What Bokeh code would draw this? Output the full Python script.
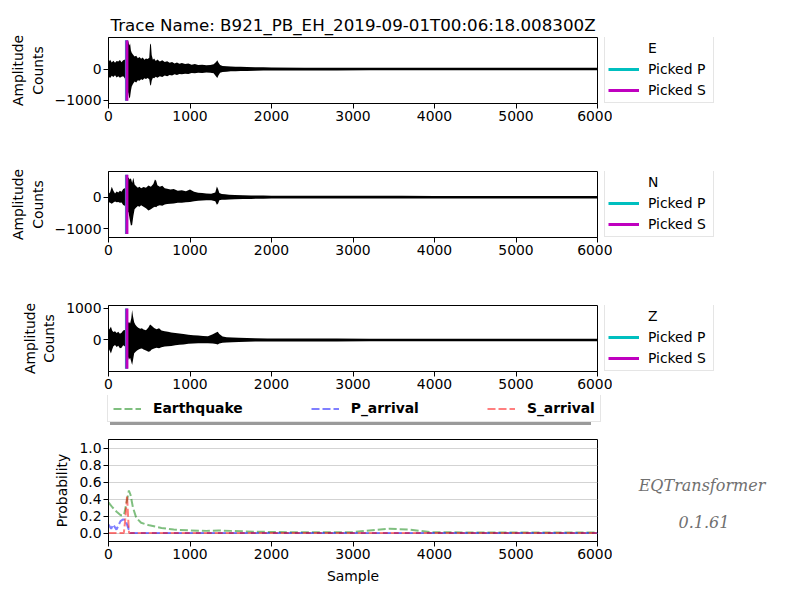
from bokeh.plotting import figure
from bokeh.models import Legend, LegendItem, FixedTicker, Range1d, Label
from bokeh.layouts import column, row
from bokeh.embed import file_html
from bokeh.resources import INLINE

trace_name = "B921_PB_EH_2019-09-01T00:06:18.008300Z"
x_ticks = [0, 1000, 2000, 3000, 4000, 5000, 6000]

# waveform envelopes (sample, counts)
e_x = [0, 20, 40, 60, 80, 100, 120, 140, 160, 180, 200, 215, 225, 235, 245, 255, 265, 275, 285, 300,
       320, 340, 360, 380, 400, 420, 440, 460, 480, 500, 510, 520, 530, 545, 560, 580, 600, 630, 660, 690,
       720, 750, 780, 810, 840, 870, 900, 940, 980, 1020, 1060, 1100, 1150, 1200, 1250, 1290, 1320, 1335, 1350, 1370,
       1400, 1450, 1500, 1560, 1620, 1700, 1800, 1900, 2000,
       2400, 2800, 3200, 3600, 4000, 4400, 4800, 5200, 5600, 6000]
e_up = [230, 300, 210, 270, 200, 260, 240, 290, 220, 280, 300, 500, 700, 930, 880, 760, 820, 600, 520, 470,
        400, 430, 350, 390, 330, 370, 300, 340, 320, 360, 780, 820, 450, 300, 340, 260, 310, 240, 280, 230,
        250, 200, 230, 180, 210, 170, 190, 160, 180, 140, 160, 130, 140, 120, 130, 150, 230, 280, 200, 130,
        100, 90, 80, 75, 70, 65, 60, 55, 50,
        45, 45, 42, 42, 40, 40, 40, 40, 40, 40]
e_lo = [-240, -290, -220, -260, -200, -270, -230, -280, -250, -230, -300, -600, -1000, -700, -800, -950, -900, -700, -560, -480,
        -400, -430, -360, -380, -330, -350, -300, -320, -290, -330, -500, -540, -380, -280, -300, -250, -280, -230, -260, -210,
        -230, -190, -210, -170, -190, -160, -170, -150, -160, -130, -140, -120, -130, -110, -120, -140, -240, -290, -200, -120,
        -95, -85, -75, -70, -65, -60, -55, -50, -48,
        -45, -45, -42, -42, -40, -40, -40, -40, -40, -40]

n_x = [0, 20, 40, 60, 80, 100, 120, 140, 160, 180, 200, 215, 230, 245, 260, 275, 290, 305, 320, 340,
       360, 380, 400, 430, 460, 490, 520, 550, 570, 585, 600, 630, 660, 690, 720, 760, 800, 850, 900, 950,
       1000, 1050, 1100, 1150, 1200, 1260, 1310, 1330, 1345, 1360, 1390, 1430, 1480, 1550, 1650, 1750, 1900, 2000,
       2400, 2800, 3200, 3600, 4000, 4400, 4800, 5200, 5600, 6000]
n_up = [100, 160, 330, 200, 120, 180, 150, 200, 170, 260, 280, 350, 550, 630, 560, 600, 450, 620, 400, 350,
        300, 330, 280, 320, 300, 370, 330, 420, 560, 520, 380, 330, 360, 280, 270, 240, 260, 200, 220, 190,
        240, 170, 140, 130, 120, 110, 150, 340, 250, 130, 100, 90, 80, 70, 60, 55, 50, 45,
        45, 45, 42, 42, 40, 40, 40, 40, 40, 40]
n_lo = [-150, -180, -210, -170, -140, -160, -150, -180, -170, -250, -270, -450, -500, -470, -700, -900, -880, -600, -380, -330,
        -280, -300, -260, -300, -350, -420, -380, -330, -300, -320, -280, -260, -270, -230, -220, -210, -200, -180, -175, -160,
        -155, -130, -110, -105, -100, -100, -130, -240, -200, -100, -85, -80, -70, -65, -60, -55, -50, -45,
        -45, -45, -42, -42, -40, -40, -40, -40, -40, -40]

z_x = [0, 15, 30, 45, 60, 80, 100, 120, 140, 160, 180, 200, 215, 235, 250, 265, 280, 290, 300, 315,
       330, 350, 370, 390, 410, 430, 460, 490, 510, 530, 560, 590, 620, 650, 690, 730, 770, 820, 870, 920,
       980, 1040, 1100, 1160, 1220, 1280, 1320, 1340, 1360, 1400, 1450, 1520, 1600, 1700, 1800, 1950, 2000,
       2400, 2800, 3200, 3600, 4000, 4400, 4800, 5200, 5600, 6000]
z_up = [310, 360, 420, 300, 250, 280, 220, 260, 200, 230, 300, 320, 360, 500, 580, 520, 700, 950, 760, 560,
        480, 420, 380, 360, 370, 330, 310, 400, 490, 450, 380, 340, 370, 300, 280, 260, 240, 220, 210, 190,
        170, 150, 140, 130, 120, 180, 240, 260, 190, 110, 90, 80, 70, 60, 55, 50, 48,
        45, 45, 42, 42, 40, 40, 40, 40, 40, 40]
z_lo = [-260, -340, -430, -300, -200, -160, -220, -180, -260, -250, -170, -200, -350, -500, -630, -560, -700, -790, -650, -420,
        -380, -330, -300, -280, -270, -300, -330, -370, -360, -300, -270, -250, -260, -230, -210, -200, -190, -170, -150, -140,
        -120, -110, -105, -100, -100, -110, -130, -140, -110, -90, -80, -70, -60, -55, -50, -48, -45,
        -45, -45, -42, -42, -40, -40, -40, -40, -40, -40]

p_pick = 220
s_pick = 226
e_ylim = [-1110, 1015]
n_ylim = [-1280, 815]
z_ylim = [-1000, 1095]
e_pick_span = [-1020, 930]
n_pick_span = [-1165, 710]
z_pick_span = [-916, 1000]

# probabilities
eq_x = [0, 50, 100, 150, 190, 220, 250, 270, 300, 340, 400, 500, 650, 800, 1000, 1200, 1350, 1500, 1800,
        2200, 2600, 3000, 3200, 3450, 3700, 3950, 4500, 5000, 5500, 6000]
eq_y = [0.36, 0.30, 0.25, 0.21, 0.21, 0.35, 0.50, 0.45, 0.30, 0.18, 0.12, 0.09, 0.06, 0.04, 0.03, 0.025, 0.03, 0.025, 0.015,
        0.01, 0.008, 0.01, 0.03, 0.05, 0.04, 0.01, 0.006, 0.005, 0.005, 0.005]
pa_x = [0, 33, 57, 98, 147, 180, 208, 249, 269, 300, 1000, 3000, 6000]
pa_y = [0.10, 0.05, 0.10, 0.04, 0.14, 0.16, 0.15, 0.04, 0.0, 0.0, 0.0, 0.0, 0.0]
sa_x = [0, 100, 188, 205, 228, 240, 252, 300, 1000, 3000, 6000]
sa_y = [0.0, 0.0, 0.0, 0.15, 0.44, 0.2, 0.0, 0.0, 0.0, 0.0, 0.0]
prob_ticks = [0.0, 0.2, 0.4, 0.6, 0.8, 1.0]
prob_labels = ["Earthquake", "P_arrival", "S_arrival"]
prob_colors = ["green", "blue", "red"]
pick_labels = ["Picked P", "Picked S"]
pick_colors = ["#00bfbf", "#bf00bf"]
credit = ["EQTransformer", "0.1.61"]

FONT = "DejaVu Sans"
FS = "13.9px"
SHADOW = "#9a9a9a"
dash = dict(line_dash="8 3", line_width=2, line_alpha=0.5)


def make_fig(ylim, top, bottom, fh):
    p = figure(frame_width=489, frame_height=fh, min_border_left=108, min_border_right=15,
               min_border_top=top, min_border_bottom=bottom, x_range=Range1d(0, 6000),
               y_range=Range1d(*ylim), toolbar_location=None, output_backend="svg")
    p.outline_line_color = "black"
    p.outline_line_alpha = 1
    p.xgrid.visible = False
    p.ygrid.visible = False
    p.xaxis.ticker = FixedTicker(ticks=x_ticks)
    for ax in (p.xaxis[0], p.yaxis[0]):
        ax.major_label_text_font = FONT
        ax.major_label_text_font_size = FS
        ax.major_label_text_color = "black"
        ax.axis_label_text_font = FONT
        ax.axis_label_text_font_size = FS
        ax.axis_label_text_font_style = "normal"
        ax.axis_label_text_color = "black"
        ax.axis_line_color = "black"
        ax.major_tick_line_color = "black"
        ax.major_tick_out = 5
        ax.major_tick_in = 0
        ax.minor_tick_line_color = None
        ax.major_label_standoff = 2
        ax.axis_label_standoff = 6
    return p


def blank_fig(w, h, top=0, bottom=0):
    p = figure(frame_width=w, frame_height=h, min_border=0, min_border_top=top, min_border_bottom=bottom,
               x_range=Range1d(0, w), y_range=Range1d(0, h),
               x_axis_type=None, y_axis_type=None, toolbar_location=None, output_backend="svg")
    p.outline_line_color = None
    p.background_fill_alpha = 0
    p.border_fill_alpha = 0
    p.xgrid.visible = False
    p.ygrid.visible = False
    return p


def shadow_box(p, renderers, loc, **kw):
    # grey block the size of the legend, drawn first and a few px down-right
    items = [LegendItem(label=" ", renderers=[r]) for r in renderers]
    leg = Legend(items=items, location=loc, margin=0, label_text_font=FONT, label_text_font_size=FS,
                 background_fill_color=SHADOW, background_fill_alpha=1, border_line_color=None, **kw)
    p.add_layout(leg)


def front_box(p, items, loc, **kw):
    leg = Legend(items=items, location=loc, margin=0, label_text_font=FONT, label_text_font_size=FS,
                 label_text_color="black", background_fill_color="white", background_fill_alpha=1,
                 border_line_color="#cccccc", **kw)
    p.add_layout(leg)


def side_fig(comp, bottom):
    # same borders as the trace panel so both frames line up; slides 12px over its right border
    s = blank_fig(172, 66, 37, bottom)
    s.styles = {"margin-left": "-12px"}
    blank = s.line(x=[0, 1], y=[-50, -50], line_alpha=0)
    keys = [s.line(x=[0, 1], y=[-50, -50], line_color=c, line_width=3) for c in pick_colors]
    items = [LegendItem(label=comp, renderers=[blank])] + \
            [LegendItem(label=l, renderers=[r]) for l, r in zip(pick_labels, keys)]
    kw = dict(glyph_width=31, glyph_height=18, label_height=18, label_width=62, spacing=3,
              padding=3, label_standoff=9)
    shadow_box(s, [blank, blank, blank], (7, -3), **kw)
    front_box(s, items, (4, 0), **kw)
    return s


def trace_fig(xs, up, lo, ylim, span, yticks, bottom, title=None):
    p = make_fig(ylim, 37, bottom, 66)
    p.varea(x=xs, y1=lo, y2=up, fill_color="black")
    for xp, c in zip([p_pick, s_pick], pick_colors):
        p.segment(x0=[xp], y0=[span[0]], x1=[xp], y1=[span[1]], line_color=c, line_width=3)
    p.yaxis.ticker = FixedTicker(ticks=yticks)
    p.yaxis.major_label_overrides = {t: str(t).replace("-", "\u2212") for t in yticks}
    p.yaxis.axis_label = "Amplitude\nCounts"
    if title:
        p.title.text = title
        p.title.align = "center"
        p.title.text_font = FONT
        p.title.text_font_size = "16.7px"
        p.title.text_font_style = "normal"
        p.title.text_color = "black"
        p.title.standoff = 6
    return p


p1 = trace_fig(e_x, e_up, e_lo, e_ylim, e_pick_span, [-1000, 0], 31, "Trace Name: " + trace_name)
p2 = trace_fig(n_x, n_up, n_lo, n_ylim, n_pick_span, [-1000, 0], 31)
p3 = trace_fig(z_x, z_up, z_lo, z_ylim, z_pick_span, [0, 1000], 24)
s1 = side_fig("E", 31)
s2 = side_fig("N", 31)
s3 = side_fig("Z", 24)

# strip holding the legend of the probability panel (its key lines sit below the visible range)
lf = blank_fig(772, 36)
leg_r = [lf.line(x=[0, 1], y=[-50, -50], line_color=c, **dash) for c in prob_colors]
prob_items = [LegendItem(label=l, renderers=[r]) for l, r in zip(prob_labels, leg_r)]
hz = dict(orientation="horizontal", glyph_width=28, glyph_height=15, label_height=15, padding=5,
          label_standoff=12)
shadow_box(lf, leg_r, (110, 6), label_width=89, spacing=47, **hz)
front_box(lf, prob_items, (107, 9), label_width=68, spacing=68, label_text_font_style="bold", **hz)

# probability panel
p4 = make_fig([-0.1, 1.1], 8, 45, 102)
p4.ygrid.visible = True
p4.ygrid.grid_line_color = "#d3d3d3"
p4.ygrid.grid_line_width = 1
p4.yaxis.ticker = FixedTicker(ticks=prob_ticks)
p4.yaxis.major_label_overrides = {t: "%.1f" % t for t in prob_ticks}
p4.yaxis.axis_label = "Probability"
p4.xaxis.axis_label = "Sample"
for xs, ys, c in zip([eq_x, pa_x, sa_x], [eq_y, pa_y, sa_y], prob_colors):
    p4.line(xs, ys, line_color=c, **dash)

tf = blank_fig(160, 155)
for txt, xx, yy in zip(credit, [89.5, 91.5], [109, 73]):
    tf.add_layout(Label(x=xx, y=yy, text=txt, text_align="center", text_baseline="middle",
                        text_font="DejaVu Serif", text_font_style="italic", text_font_size="16px",
                        text_color="#707070"))

layout = column(row(p1, s1), row(p2, s2), row(p3, s3), lf, row(p4, tf))
open("out.html", "w").write(file_html(layout, INLINE))
